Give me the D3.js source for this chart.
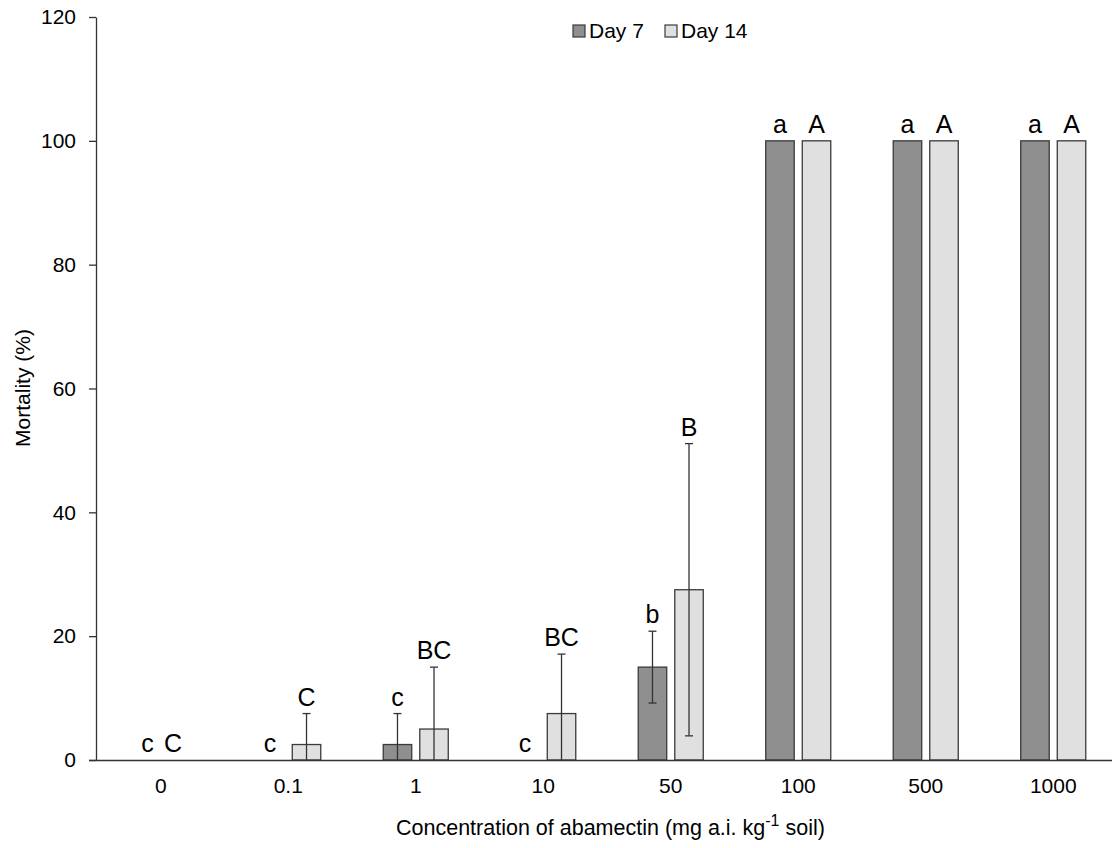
<!DOCTYPE html>
<html>
<head>
<meta charset="utf-8">
<script src="https://cdn.jsdelivr.net/npm/d3@7"></script>
<style>
  html, body { margin: 0; padding: 0; background: #fff; }
  svg { display: block; font-family: Arial, "Liberation Sans", sans-serif; }
</style>
</head>
<body>
<svg id="chart" width="1112" height="848"></svg>
<script>
// ---- data ----
const categories = ["0", "0.1", "1", "10", "50", "100", "500", "1000"];
const seriesNames = ["Day 7", "Day 14"];
const day7Values = [0, 0, 2.5, 0, 15, 100, 100, 100];
const day7Errors = [0, 0, 5, 0, 5.8, 0, 0, 0];
const day14Values = [0, 2.5, 5, 7.5, 27.5, 100, 100, 100];
const day14Errors = [0, 5, 10, 9.6, 23.6, 0, 0, 0];
const day7Letters = ["c", "c", "c", "c", "b", "a", "a", "a"];
const day14Letters = ["C", "C", "BC", "BC", "B", "A", "A", "A"];
const yTicks = [0, 20, 40, 60, 80, 100, 120];

const colors = { "Day 7": "#8f8f8f", "Day 14": "#e0e0e0" };
const strokeCol = "#3a3a3a";
const FONT = "Arial, 'Liberation Sans', sans-serif";

const svg = d3.select("#chart");

const y = d3.scaleLinear().domain([0, 120]).range([760, 17]);
const x = d3.scaleBand().domain(categories).range([97, 1117])
  .paddingInner(0.49).paddingOuter(0.245);
const x1 = d3.scaleBand().domain(seriesNames).range([0, x.bandwidth()]).paddingInner(0.22);

const rows = [];
categories.forEach((c, i) => {
  rows.push({ cat: c, s: "Day 7", v: day7Values[i], e: day7Errors[i], l: day7Letters[i] });
  rows.push({ cat: c, s: "Day 14", v: day14Values[i], e: day14Errors[i], l: day14Letters[i] });
});

// bars
svg.append("g").selectAll("rect").data(rows.filter(d => d.v > 0)).join("rect")
  .attr("x", d => x(d.cat) + x1(d.s))
  .attr("y", d => y(d.v))
  .attr("width", x1.bandwidth())
  .attr("height", d => y(0) - y(d.v))
  .attr("fill", d => colors[d.s])
  .attr("stroke", strokeCol)
  .attr("stroke-width", 1.3);

// error bars
const eg = svg.append("g").attr("stroke", "#333").attr("stroke-width", 1.3);
rows.filter(d => d.e > 0).forEach(d => {
  const cx = x(d.cat) + x1(d.s) + x1.bandwidth() / 2;
  const top = d.v + d.e;
  const low = Math.max(0, d.v - d.e);
  eg.append("line").attr("x1", cx).attr("x2", cx).attr("y1", y(top)).attr("y2", y(low));
  eg.append("line").attr("x1", cx - 4).attr("x2", cx + 4).attr("y1", y(top)).attr("y2", y(top));
  if (d.v - d.e > 0) {
    eg.append("line").attr("x1", cx - 4).attr("x2", cx + 4).attr("y1", y(low)).attr("y2", y(low));
  }
});

// letters (for empty pairs of bars the two letters sit a little closer together)
svg.append("g").selectAll("text").data(rows).join("text")
  .attr("x", d => {
    const cx = x(d.cat) + x1(d.s) + x1.bandwidth() / 2;
    const pairEmpty = rows.filter(r => r.cat === d.cat).every(r => r.v === 0);
    return pairEmpty ? cx + (d.s === "Day 7" ? 5 : -6) : cx;
  })
  .attr("y", d => y(d.v + d.e) - 8)
  .attr("text-anchor", "middle")
  .attr("font-size", 25)
  .attr("fill", "#000")
  .text(d => d.l);

// y axis
const yAxis = svg.append("g").attr("transform", "translate(96,0)")
  .call(d3.axisLeft(y).tickValues(yTicks).tickSize(7).tickSizeOuter(0).tickPadding(13));
yAxis.selectAll("text").attr("font-size", 21).attr("fill", "#000").style("font-family", FONT);
yAxis.selectAll("line,path").attr("stroke", "#333").attr("stroke-width", 1.3);

// x axis
const xAxis = svg.append("g").attr("transform", "translate(0,760)")
  .call(d3.axisBottom(x).tickSize(0).tickPadding(18));
xAxis.select(".domain").attr("d", "M89,0.5H1112").attr("stroke", "#333").attr("stroke-width", 1.3);
xAxis.selectAll("text").attr("font-size", 21).attr("fill", "#000").style("font-family", FONT);

// axis titles
svg.append("text")
  .attr("transform", "translate(30,388) rotate(-90)")
  .attr("text-anchor", "middle")
  .attr("font-size", 21)
  .text("Mortality (%)");

const xt = svg.append("text")
  .attr("x", 396).attr("y", 835)
  .attr("text-anchor", "start")
  .attr("font-size", 21.5);
xt.append("tspan").text("Concentration of abamectin (mg a.i. kg");
xt.append("tspan").attr("dy", -9).attr("font-size", 16).text("-1");
xt.append("tspan").attr("dy", 9).text(" soil)");

// legend
const legX = [573, 665];
const lg = svg.append("g");
seriesNames.forEach((s, i) => {
  lg.append("rect").attr("x", legX[i]).attr("y", 25).attr("width", 12).attr("height", 12)
    .attr("fill", colors[s]).attr("stroke", strokeCol).attr("stroke-width", 1.2);
  lg.append("text").attr("x", legX[i] + 16).attr("y", 38).attr("font-size", 21).text(s);
});
</script>
</body>
</html>
